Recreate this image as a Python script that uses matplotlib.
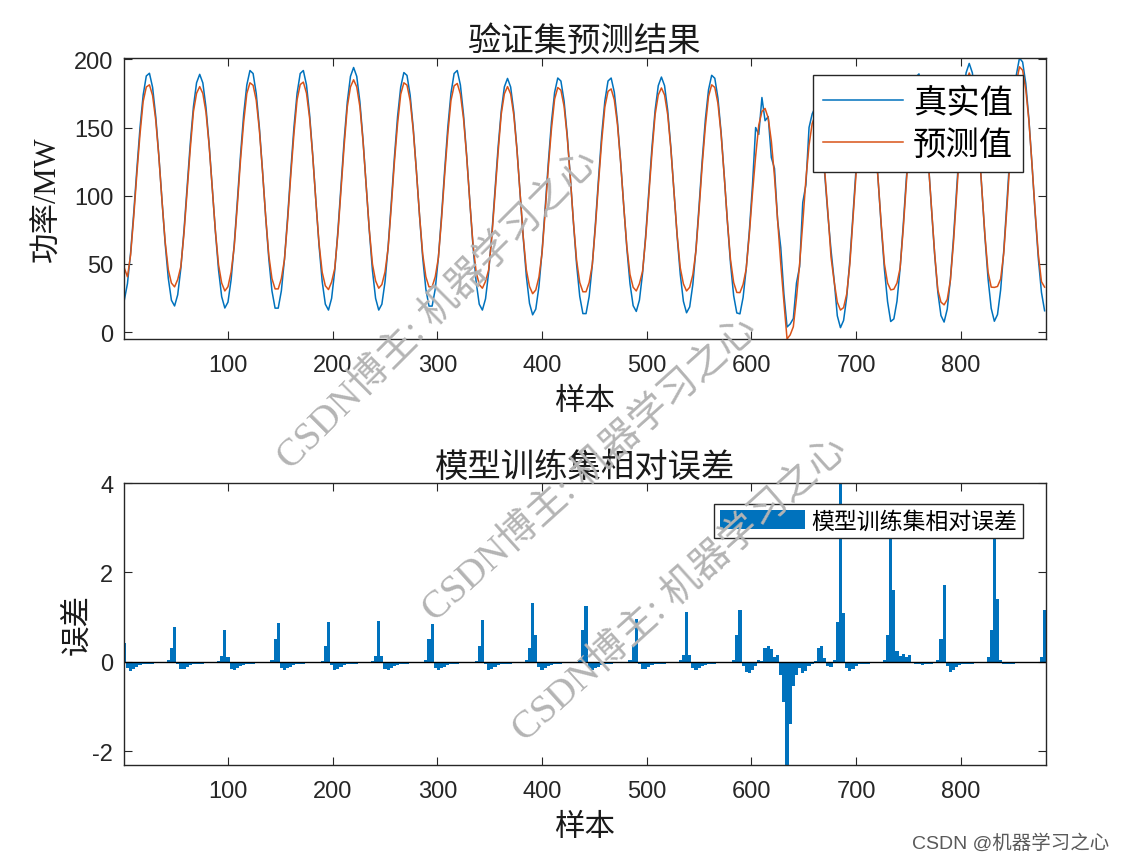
import numpy as np
import matplotlib
matplotlib.use("Agg")
import matplotlib.pyplot as plt

# sample index (every 3rd sample) and axis extent
sample_idx = np.arange(1, 881, 3)
n_samples = 881

# 真实值, read cycle by cycle (peaks near 24, 73, 122, ... troughs in between)
real_power = [
    23.5, 35.6, 58.1, 87.5, 119.7, 149.9, 173.8, 187.8, 189.8, 179.5, 158.2, 129.2, 96.5, 65.1, 39.5, 23.4,
    19.2, 27.4, 46.9, 74.7, 106.7, 138.4, 165.1, 182.8, 189, 182.7, 164.8, 138, 106, 73.6, 45.6, 26, 17.7,
    22, 38.4, 64.5, 96.6, 129.9, 159.6, 181.2, 191.8, 189.6, 175, 150, 118.3, 84.6, 53.8, 30.3, 17.6,
    17.6, 30.3, 53.8, 84.6, 118.3, 150, 175, 189.6, 191.8, 181.2, 159.3, 129.4, 95.8, 63.4, 37.1, 20.5,
    16.2, 24.8, 45.2, 74.3, 107.8, 141, 168.9, 187.5, 194, 187.5, 168.9, 141, 107.8, 74.3, 45.2, 24.8, 16.2,
    20.5, 36.9, 63, 95.1, 128.4, 158.1, 179.7, 190.3, 188.2, 173.8, 149.2, 118.1, 85, 54.6, 31.6, 19.1,
    19.1, 31.7, 55, 85.5, 119, 150.4, 175.1, 189.6, 191.8, 181.2, 159.3, 129.4, 95.8, 63.4, 37.1, 20.5,
    16.2, 24.4, 43.9, 71.7, 103.7, 135.4, 162.1, 179.8, 186, 179.7, 161.6, 134.4, 102, 69.3, 40.9, 21.1, 12.7,
    16.9, 33.3, 59.4, 91.4, 124.6, 154.2, 175.8, 186.3, 184.1, 169.6, 144.9, 113.5, 80, 49.5, 26.2, 13.6,
    13.6, 26.2, 49.5, 80, 113.5, 144.9, 169.6, 184.1, 186.3, 175.9, 154.6, 125.5, 92.7, 61.2, 35.5, 19.4,
    15.2, 23.5, 43.2, 71.3, 103.8, 135.8, 162.8, 180.7, 187, 180.7, 162.6, 135.5, 103.3, 70.6, 42.4, 22.6, 14.2,
    18.5, 34.9, 61, 93.1, 126.4, 156.1, 177.7, 188.3, 186.1, 171.5, 146.5, 114.8, 81.1, 50.3, 26.8, 14.1,
    13.4, 25.4, 46.6, 74.5, 108, 150, 145, 172, 155, 158, 128, 120, 82, 62, 28, 3.8,
    6, 10, 36, 48, 95, 108, 150, 160, 165, 150, 145, 116, 86, 60, 38, 12, 3.3,
    8.6, 25.7, 52.9, 86.3, 120.9, 151.7, 174.3, 185.3, 183.1, 168.3, 143.2, 111.2, 77.2, 46.1, 22.4, 7.8,
    9.7, 22.7, 46.9, 78.8, 113.5, 138, 171.9, 187, 189.3, 178.3, 155.7, 124.7, 90, 56.6, 29.3, 12.2,
    7.4, 16.9, 38.6, 69.5, 105.3, 140.6, 170.3, 190.1, 197, 190.1, 170.4, 140.8, 105.5, 69.9, 39, 17.4, 8.0,
    12.9, 31, 59.9, 95.2, 132, 164.7, 188.6, 201, 198, 182.4, 156, 122.4, 86.7, 54, 29.1, 15.7,
]

# 预测值
pred_power = [
    47, 40.6, 56.5, 84.7, 116.3, 145.2, 169.1, 179.7, 181.3, 173.5, 155.6, 128.5, 96.3, 66.5, 45.8, 36,
    33.2, 38.6, 48.1, 72.4, 103.5, 134.3, 161.5, 175.1, 180, 175, 161.2, 136.9, 105.8, 74.2, 49.4, 36, 30.2,
    33.3, 44, 62.8, 93.4, 126.2, 153.9, 174.9, 182.8, 181, 170, 148.2, 117.9, 85, 56.4, 39.3, 31.7,
    31.7, 39.3, 53.4, 82, 114.9, 145.3, 170.3, 181.5, 183.3, 175.2, 156.7, 128.7, 95.6, 64.9, 43.9, 34,
    31.2, 36.8, 46.7, 72, 104.6, 136.9, 165.3, 179.8, 185, 179.8, 165.3, 139.9, 107.6, 75.1, 50, 37.6, 32.2,
    34.9, 44.1, 61.6, 92, 124.8, 152.8, 174.4, 182.8, 181.1, 169.7, 147.7, 117.7, 85.4, 57.2, 40.6, 33.2,
    33.2, 40.7, 54.6, 82.9, 115.5, 145.5, 169.9, 180.6, 182.3, 174.5, 156.4, 128.6, 95.6, 65, 44.3, 34.9,
    32.2, 37.2, 45.7, 69.5, 100.6, 131.7, 159.7, 174.7, 180, 174.6, 159.2, 133.7, 101.9, 70.1, 45.6, 33.5, 28.2,
    30.9, 40.3, 58, 88.3, 121, 149.1, 170.9, 179.3, 177.4, 165.7, 143.5, 113.2, 80.5, 52.5, 36.4, 29.6,
    29.6, 36.4, 49.5, 77.5, 110.1, 140.3, 165.2, 176.5, 178.3, 170.3, 152.2, 124.9, 92.5, 62.7, 42.3, 32.9,
    30.2, 35.5, 44.7, 69, 100.6, 131.8, 159.6, 173.9, 179, 173.9, 159.4, 134.5, 103.1, 71.4, 47.2, 35.4, 30.2,
    32.9, 42.1, 59.6, 90, 122.8, 151, 172.8, 181.3, 179.4, 167.6, 145.1, 114.4, 81.6, 53.1, 36.4, 29.1,
    29, 35, 46.4, 72, 102, 129, 151.8, 161.8, 164, 157, 140, 114, 82, 50, 22, -5,
    -2, 4, 25, 50, 80, 112, 137, 153, 159, 156, 141, 118, 88, 55, 37, 22, 16.2,
    18, 28, 50, 83, 117, 147, 170, 179.5, 177.5, 165, 142, 111.5, 78.5, 50, 36, 31,
    31.5, 36, 47, 76, 110, 141.5, 167.5, 180, 182.3, 173, 153, 124, 90.5, 57.5, 31, 22,
    20, 24, 38, 66, 101.5, 136, 165, 183, 190, 183.5, 167, 140, 105.5, 71, 44, 33, 32.8,
    33.5, 39, 58, 91, 127, 159, 183, 194.5, 192, 178, 155, 122.5, 88, 57, 37, 33,
]

# 模型训练集相对误差
rel_error = [
    0.42, -0.15, -0.2, -0.17, -0.12, -0.08, -0.06, -0.05, -0.04, -0.04, -0.03, -0.03, -0.02, -0.01, 0.04, 0.3,
    0.77, -0.05, -0.17, -0.16, -0.12, -0.08, -0.06, -0.05, -0.04, -0.04, -0.03, -0.03, -0.02, -0.02, 0.02, 0.12, 0.72,
    0.1, -0.16, -0.18, -0.14, -0.1, -0.07, -0.05, -0.04, -0.04, -0.03, -0.03, -0.02, -0.02, 0.0, 0.05, 0.5,
    0.87, -0.15, -0.19, -0.15, -0.11, -0.07, -0.05, -0.04, -0.04, -0.03, -0.03, -0.02, -0.02, -0.01, 0.02, 0.35,
    0.9, -0.08, -0.18, -0.17, -0.12, -0.08, -0.06, -0.05, -0.04, -0.04, -0.03, -0.03, -0.02, -0.02, 0.02, 0.12, 0.91,
    0.12, -0.16, -0.18, -0.14, -0.1, -0.07, -0.05, -0.04, -0.04, -0.03, -0.03, -0.02, -0.02, 0.0, 0.05, 0.5,
    0.84, -0.15, -0.19, -0.15, -0.11, -0.07, -0.05, -0.04, -0.04, -0.03, -0.03, -0.02, -0.02, -0.01, 0.02, 0.35,
    0.93, -0.06, -0.18, -0.17, -0.12, -0.08, -0.06, -0.05, -0.04, -0.04, -0.03, -0.03, -0.02, -0.02, 0.03, 0.3, 1.32,
    0.6, -0.12, -0.18, -0.14, -0.1, -0.07, -0.05, -0.04, -0.04, -0.03, -0.03, -0.02, -0.02, 0.0, 0.05, 0.7,
    1.25, -0.15, -0.19, -0.15, -0.11, -0.07, -0.05, -0.04, -0.04, -0.03, -0.03, -0.02, -0.02, -0.01, 0.03, 0.35,
    0.96, -0.06, -0.16, -0.16, -0.12, -0.08, -0.06, -0.05, -0.04, -0.04, -0.03, -0.03, -0.02, -0.02, 0.03, 0.15, 1.12,
    0.15, -0.15, -0.18, -0.14, -0.1, -0.07, -0.05, -0.04, -0.04, -0.03, -0.03, -0.02, -0.02, 0.0, 0.05, 0.6,
    1.16, -0.1, -0.22, -0.26, -0.18, -0.1, 0.04, 0.02, 0.3, 0.35, 0.28, 0.1, 0.15, -0.3, -0.9, -2.31,
    -1.4, -0.55, -0.3, -0.15, -0.25, -0.2, -0.1, -0.05, 0.02, 0.3, 0.35, 0.08, -0.1, -0.12, 0.05, 0.9, 4.0,
    1.1, -0.15, -0.2, -0.17, -0.1, -0.06, -0.05, -0.04, -0.04, -0.03, -0.03, -0.02, -0.01, 0.05, 0.6, 3.0,
    1.6, 0.25, 0.12, 0.18, 0.1, 0.15, -0.03, -0.05, -0.06, -0.08, -0.06, -0.05, -0.04, -0.02, 0.05, 0.5,
    1.72, -0.1, -0.22, -0.18, -0.12, -0.08, -0.06, -0.05, -0.04, -0.04, -0.03, -0.03, -0.02, -0.02, 0.1, 0.7, 3.0,
    1.4, 0.05, -0.05, -0.05, -0.04, -0.04, -0.03, -0.03, -0.02, -0.02, -0.02, -0.01, -0.01, 0.0, 0.1, 1.15,
]

blue = "#0072BD"
orange = "#D95319"
dark = "#262626"
cjk = ["Noto Sans CJK SC"]
serif_cjk = ["Liberation Serif", "Noto Sans CJK SC"]
plt.rcParams["font.family"] = ["Liberation Sans", "Noto Sans CJK SC"]
plt.rcParams["axes.unicode_minus"] = False

fig = plt.figure(figsize=(11.24, 8.62), dpi=100)
ax1 = fig.add_axes([0.1106, 0.6056, 0.8197, 0.326])
ax2 = fig.add_axes([0.1106, 0.1114, 0.8197, 0.3271])


def style(ax):
    for s in ax.spines.values():
        s.set_linewidth(1.0)
        s.set_color(dark)
    ax.tick_params(direction="in", top=True, right=True, length=5.5, width=0.8,
                   colors=dark, labelsize=17)
    ax.tick_params(axis="x", pad=11)
    ax.tick_params(axis="y", pad=8)
    ax.set_xlim(1, n_samples)
    ax.set_xticks(range(100, 900, 100))


# top: real vs predicted
ax1.plot(sample_idx, real_power, color=blue, lw=1.1, label="真实值")
ax1.plot(sample_idx, pred_power, color=orange, lw=1.1, label="预测值")
style(ax1)
ax1.set_ylim(min(pred_power), max(real_power))
ax1.set_yticks([0, 50, 100, 150, 200])
ax1.set_title("验证集预测结果", family=cjk, fontsize=24, pad=6, color="#1a1a1a")
ax1.set_xlabel("样本", family=cjk, fontsize=22, labelpad=6, color="#1a1a1a")
ax1.set_ylabel("功率/MW", family=serif_cjk, fontsize=22, labelpad=8, color="#1a1a1a")
ax1.legend(loc="upper right", bbox_to_anchor=(0.9754, 0.9395), borderaxespad=0,
           fancybox=False, edgecolor=dark, framealpha=1, prop={"family": cjk, "size": 24},
           handlelength=2.4, handletextpad=0.3, borderpad=0.3, labelspacing=0.2)

# bottom: relative error bars
ax2.bar(sample_idx, rel_error, width=3, color=blue, linewidth=0, label="模型训练集相对误差")
ax2.axhline(0, color="k", lw=1.0)
style(ax2)
ax2.set_ylim(min(rel_error), max(rel_error))
ax2.set_yticks([-2, 0, 2, 4])
ax2.set_title("模型训练集相对误差", family=cjk, fontsize=24, pad=5, color="#1a1a1a")
ax2.set_xlabel("样本", family=cjk, fontsize=22, labelpad=6, color="#1a1a1a")
ax2.set_ylabel("误差", family=cjk, fontsize=22, labelpad=0, color="#1a1a1a")
ax2.legend(loc="upper right", bbox_to_anchor=(0.9754, 0.9255), borderaxespad=0,
           fancybox=False, edgecolor=dark, framealpha=1, prop={"family": cjk, "size": 16.5},
           handlelength=3.7, handleheight=0.9, handletextpad=0.3, borderpad=0.25)

# watermarks
wm = "CSDN博主: 机器学习之心"
fig.text(0.39, 0.64, wm, rotation=45, fontsize=28, color="#b4b4b4", family=serif_cjk,
         ha="center", va="center", zorder=10)
fig.text(0.525, 0.455, wm, rotation=42, fontsize=28, color="#b4b4b4", family=serif_cjk,
         ha="center", va="center", zorder=10)
fig.text(0.605, 0.315, wm, rotation=42, fontsize=28, color="#b4b4b4", family=serif_cjk,
         ha="center", va="center", zorder=10)
fig.text(0.987, 0.022, "CSDN @机器学习之心", ha="right", va="center", fontsize=14,
         color="#5a5a5a", family=["Liberation Sans", "Noto Sans CJK SC"])

fig.savefig("out.png", dpi=100)
